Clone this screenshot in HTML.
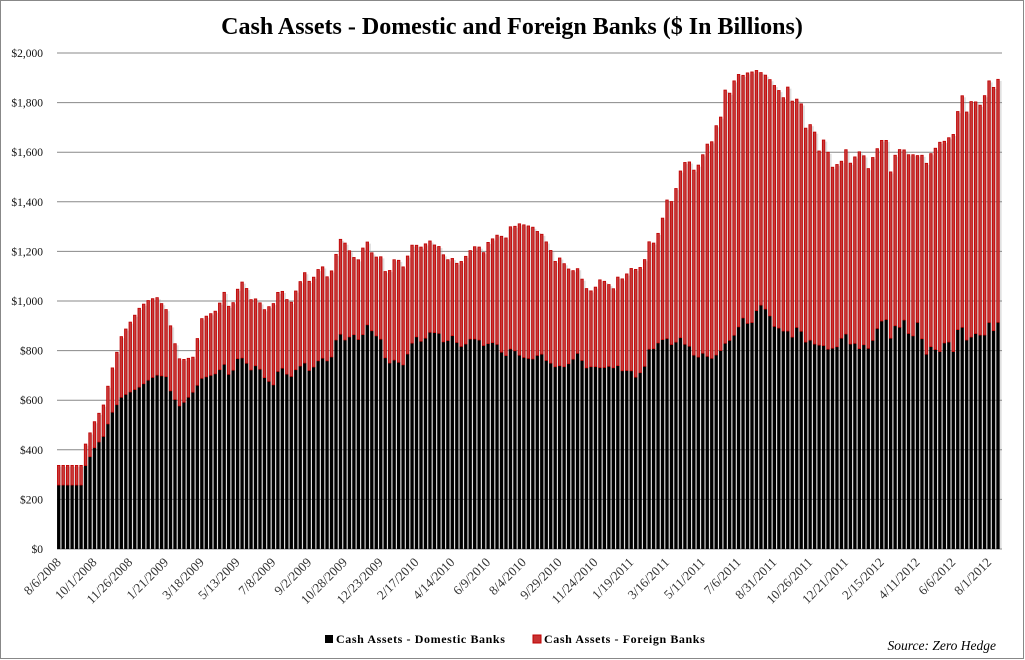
<!DOCTYPE html>
<html><head><meta charset="utf-8"><style>
html,body{margin:0;padding:0;background:#fff;}
#wrap{position:relative;width:1025px;height:660px;overflow:hidden;}
svg{position:absolute;left:0;top:0;}
</style></head><body><div id="wrap">
<svg id="c" width="1025" height="660" xmlns="http://www.w3.org/2000/svg" font-family="'Liberation Serif', serif">
<rect x="0.5" y="0.5" width="1023" height="658" fill="#fff" stroke="#888" stroke-width="1"/>
<text x="512" y="34" text-anchor="middle" font-size="24" font-weight="bold" fill="#000">Cash Assets - Domestic and Foreign Banks ($ In Billions)</text>
<g id="grid"></g>
<g id="bars"></g>
<g id="xl" font-size="13" fill="#333"></g>
<rect x="325" y="635" width="8" height="8" fill="#000"/>
<text x="336" y="643" font-size="12" font-weight="bold" letter-spacing="0.6" fill="#000">Cash Assets - Domestic Banks</text>
<rect x="533" y="635" width="8" height="8" fill="#c83232" stroke="#c00000" stroke-width="1"/>
<text x="544" y="643" font-size="12" font-weight="bold" letter-spacing="0.6" fill="#000">Cash Assets - Foreign Banks</text>
<text x="996" y="650" text-anchor="end" font-size="13.5" font-style="italic" fill="#000">Source: Zero Hedge</text>
</svg>
<script>
var NS="http://www.w3.org/2000/svg";
function el(t,a,p){var e=document.createElementNS(NS,t);for(var k in a)e.setAttribute(k,a[k]);p.appendChild(e);return e;}
var y0=549,y2000=53;
var grid=document.getElementById('grid');
for(var v=0;v<=2000;v+=200){
 var y=y0-(y0-y2000)*v/2000;
 el('line',{x1:57,x2:1002,y1:y,y2:y,stroke:'#888','stroke-width':1},grid);
 var t=el('text',{x:43,y:y+4,'text-anchor':'end','font-size':11.5,fill:'#111'},grid);
 t.textContent='$'+(v>=1000?(Math.floor(v/1000)+','+('00'+(v%1000)).slice(-3)):v);
}
var K=[
[50,[[20,1275,1335],[100,1275,1335],[105,1215,1280],[135,1140,1220],[160,1095,1190],[185,990,1120],[215,885,1070],[270,800,1040],[295,780,1020],[320,770,1005],[350,810,1010],[365,870,1065],[380,930,1085],[390,960,1100],[430,950,1055],[455,835,1015],[500,810,1000],[525,750,970],[540,815,1015],[565,740,950],[580,720,955],[610,795,1000],[620,765,965],[640,810,1010],[670,790,1035],[690,740,975],[720,795,1015],[740,745,985],[770,685,965],[780,735,1000],[800,690,965],[825,675,950],[835,730,970],[850,670,940],[860,635,890],[875,585,880],[890,620,910],[905,640,875],[920,665,895],[935,645,905],[945,583,845],[960,630,865],[975,650,885],[990,650,895]]],
[380,[[5,648,900],[20,712,975],[50,640,955],[65,690,985],[100,605,900],[115,620,885],[130,620,920],[140,605,880],[155,600,875],[170,625,880],[185,610,880],[195,675,930],[210,645,880],[225,665,895],[235,672,918],[250,657,920],[275,625,892],[290,615,900],[305,625,900],[315,645,928],[330,582,900],[345,608,915],[360,550,910],[370,633,968],[385,557,928],[400,562,925],[410,553,940],[425,548,950],[440,560,955],[455,550,955],[465,580,960],[480,565,930],[495,612,965],[505,592,955],[520,672,985],[535,648,972],[545,660,985],[560,680,975],[575,695,965],[590,680,938],[600,698,945],[615,743,985],[630,748,980],[640,760,980],[655,713,980],[670,730,988],[680,707,970],[695,765,990],[710,705,970],[720,720,990],[735,710,995],[750,683,985],[765,688,1015],[775,683,998],[790,678,998],[805,600,925],[815,618,935],[830,592,912],[845,545,900],[860,477,893],[870,495,915],[885,456,910],[900,395,890],[910,370,913],[925,358,912]]],
[690,[[10,390,943],[20,385,958],[35,352,937],[50,312,948],[65,305,955],[75,260,948],[90,243,935],[105,148,910],[115,170,905],[130,125,890],[145,102,862],[160,105,832],[170,98,850],[185,95,850],[200,90,810],[210,95,793],[225,103,805],[240,118,828],[250,132,858],[265,148,863],[280,172,873],[295,136,873],[305,183,895],[320,176,862],[335,192,875],[345,265,907],[360,252,900],[375,277,913],[385,338,915],[400,297,916],[415,338,928],[425,382,925],[440,373,922],[455,362,893],[470,322,880],[480,370,912],[495,349,910],[510,332,928],[520,342,913],[535,385,925],[550,347,898],[560,328,868],[575,300,843],[590,300,838],[600,402,900],[615,345,857],[630,326,862],[640,326,833],[655,343,880],[670,343,888],[680,346,838],[695,343,893],[710,370,945],[720,343,918],[735,325,928],[750,305,935],[760,305,910],[775,293,903],[790,282,935],[800,228,872],[815,160,857],[830,215,900],[845,180,890],[855,183,880],[870,195,885],[885,163,885],[895,118,843],[910,142,873],[925,115,845]]]
];
var P=[];
K.forEach(function(g){g[1].forEach(function(p){P.push([g[0]+p[0]/3,40+p[1]/3,40+p[2]/3]);});});
P.sort(function(a,b){return a[0]-b[0];});
function interp(x,i){
 if(x<=P[0][0])return P[0][i];
 for(var j=1;j<P.length;j++){if(P[j][0]>=x){var a=P[j-1],b=P[j];var f=(x-a[0])/((b[0]-a[0])||1);return a[i]+(b[i]-a[i])*f;}}
 return P[P.length-1][i];
}
var bars=document.getElementById('bars');
var N=211,x0=58.7,pitch=(998-58.7)/210,w=3.3;
var sh=el('g',{},bars),fg=el('g',{},bars);
for(var i=0;i<N;i++){
 var cx=x0+i*pitch,x=cx-w/2;
 var ty=interp(cx,1),dy=interp(cx,2);
 el('rect',{x:x+2,y:ty+2,width:w,height:Math.max(0,y0-ty-2),fill:'#999',opacity:0.3},sh);
 el('rect',{x:x,y:dy,width:w,height:y0-dy,fill:'#000'},fg);
 el('rect',{x:x+0.4,y:ty+0.4,width:w-0.8,height:Math.max(0,dy-ty-0.4),fill:'#c83a3a',stroke:'#c00000','stroke-width':0.8},fg);
}
var labels=['8/6/2008','10/1/2008','11/26/2008','1/21/2009','3/18/2009','5/13/2009','7/8/2009','9/2/2009','10/28/2009','12/23/2009','2/17/2010','4/14/2010','6/9/2010','8/4/2010','9/29/2010','11/24/2010','1/19/2011','3/16/2011','5/11/2011','7/6/2011','8/31/2011','10/26/2011','12/21/2011','2/15/2012','4/11/2012','6/6/2012','8/1/2012'];
var xl=document.getElementById('xl');
labels.forEach(function(s,k){
 var cx=x0+k*8*pitch+3,y=563;
 var t=el('text',{x:cx,y:y,'text-anchor':'end',transform:'rotate(-45 '+cx+' '+y+')'},xl);
 t.textContent=s;
});
</script>
</div></body></html>
